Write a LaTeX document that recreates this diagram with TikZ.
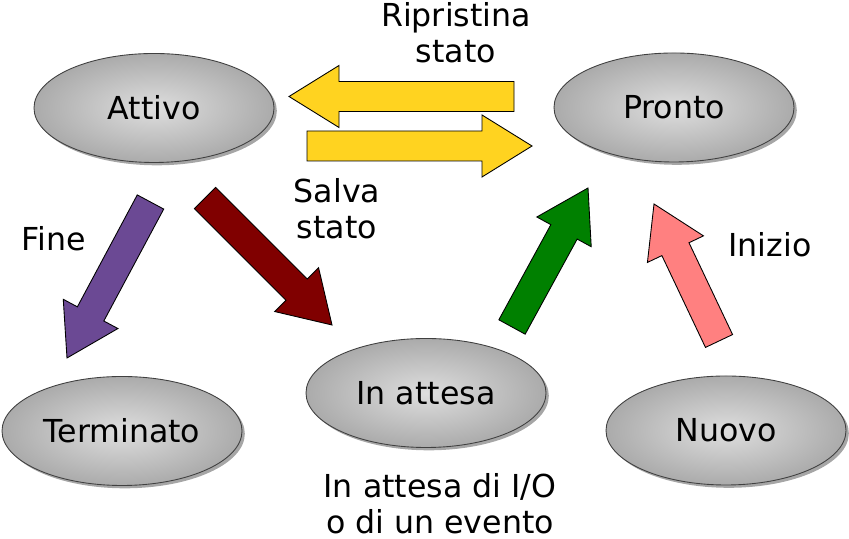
\documentclass[tikz,border=0pt]{standalone}
\usepackage{fontspec}
\setmainfont{DejaVu Sans}
\usetikzlibrary{shapes.geometric,shadows,calc}

\definecolor{giallo}{RGB}{255,211,32}
\definecolor{viola}{RGB}{107,73,148}
\definecolor{bordeaux}{RGB}{128,0,0}
\definecolor{verde}{RGB}{0,128,0}
\definecolor{rosa}{RGB}{255,128,128}

% block arrow: colour, tail, tip
\newcommand{\freccia}[3]{%
    \coordinate (#2-h) at ($(#3)!1.0cm!(#2)$);
    \draw[fill=#1,line join=miter,line width=0.5pt]
        ($(#2)!0.3cm!90:(#3)$) -- ($(#2-h)!0.3cm!90:(#3)$) --
        ($(#2-h)!0.62cm!90:(#3)$) -- (#3) --
        ($(#2-h)!0.62cm!-90:(#3)$) -- ($(#2-h)!0.3cm!-90:(#3)$) --
        ($(#2)!0.3cm!-90:(#3)$) -- cycle;
}

\begin{document}
\begin{tikzpicture}[
    stato/.style={ellipse,draw=black!75,line width=0.5pt,
        minimum width=4.8cm,minimum height=2.18cm,
        inner color=black!13,outer color=black!33,
        drop shadow={shadow xshift=1.6pt,shadow yshift=-1.6pt,fill=black!50,opacity=0.7},
        font=\fontsize{18}{20.5}\selectfont},
    testo/.style={font=\fontsize{18}{20.5}\selectfont,align=center}
]
    \useasboundingbox (0,0) rectangle (16.98,10.78);

    % States
    \node[stato] (attivo)    at (3.08,8.62)  {Attivo};
    \node[stato] (pronto)    at (13.48,8.63) {Pronto};
    \node[stato] (attesa)    at (8.52,2.92)  {In attesa};
    \node[stato] (terminato) at (2.44,2.16)  {Terminato};
    \node[stato] (nuovo)     at (14.52,2.17) {Nuovo};

    % Arrow ends
    \coordinate (ripA) at (10.28,8.85);  \coordinate (ripB) at (5.78,8.85);
    \coordinate (salA) at (6.14,7.86);   \coordinate (salB) at (10.64,7.86);
    \coordinate (finA) at (3.01,6.74);   \coordinate (finB) at (1.34,3.62);
    \coordinate (attA) at (4.10,6.82);   \coordinate (attB) at (6.64,4.28);
    \coordinate (proA) at (10.24,4.24);  \coordinate (proB) at (11.76,7.02);
    \coordinate (iniA) at (14.38,3.96);  \coordinate (iniB) at (13.08,6.70);

    % Transitions
    \freccia{giallo}{ripA}{ripB}
    \freccia{giallo}{salA}{salB}
    \freccia{viola}{finA}{finB}
    \freccia{bordeaux}{attA}{attB}
    \freccia{verde}{proA}{proB}
    \freccia{rosa}{iniA}{iniB}

    % Labels
    \node[testo] (ripristina) at (9.12,10.12) {Ripristina\\stato};
    \node[testo] (salva)      at (6.74,6.60)  {Salva\\stato};
    \node[testo] (fine)       at (1.08,6.00)  {Fine};
    \node[testo] (inizio)     at (15.40,5.88) {Inizio};
    \node[testo] (evento)     at (8.80,0.70)  {In attesa di I/O\\o di un evento};
\end{tikzpicture}
\end{document}
